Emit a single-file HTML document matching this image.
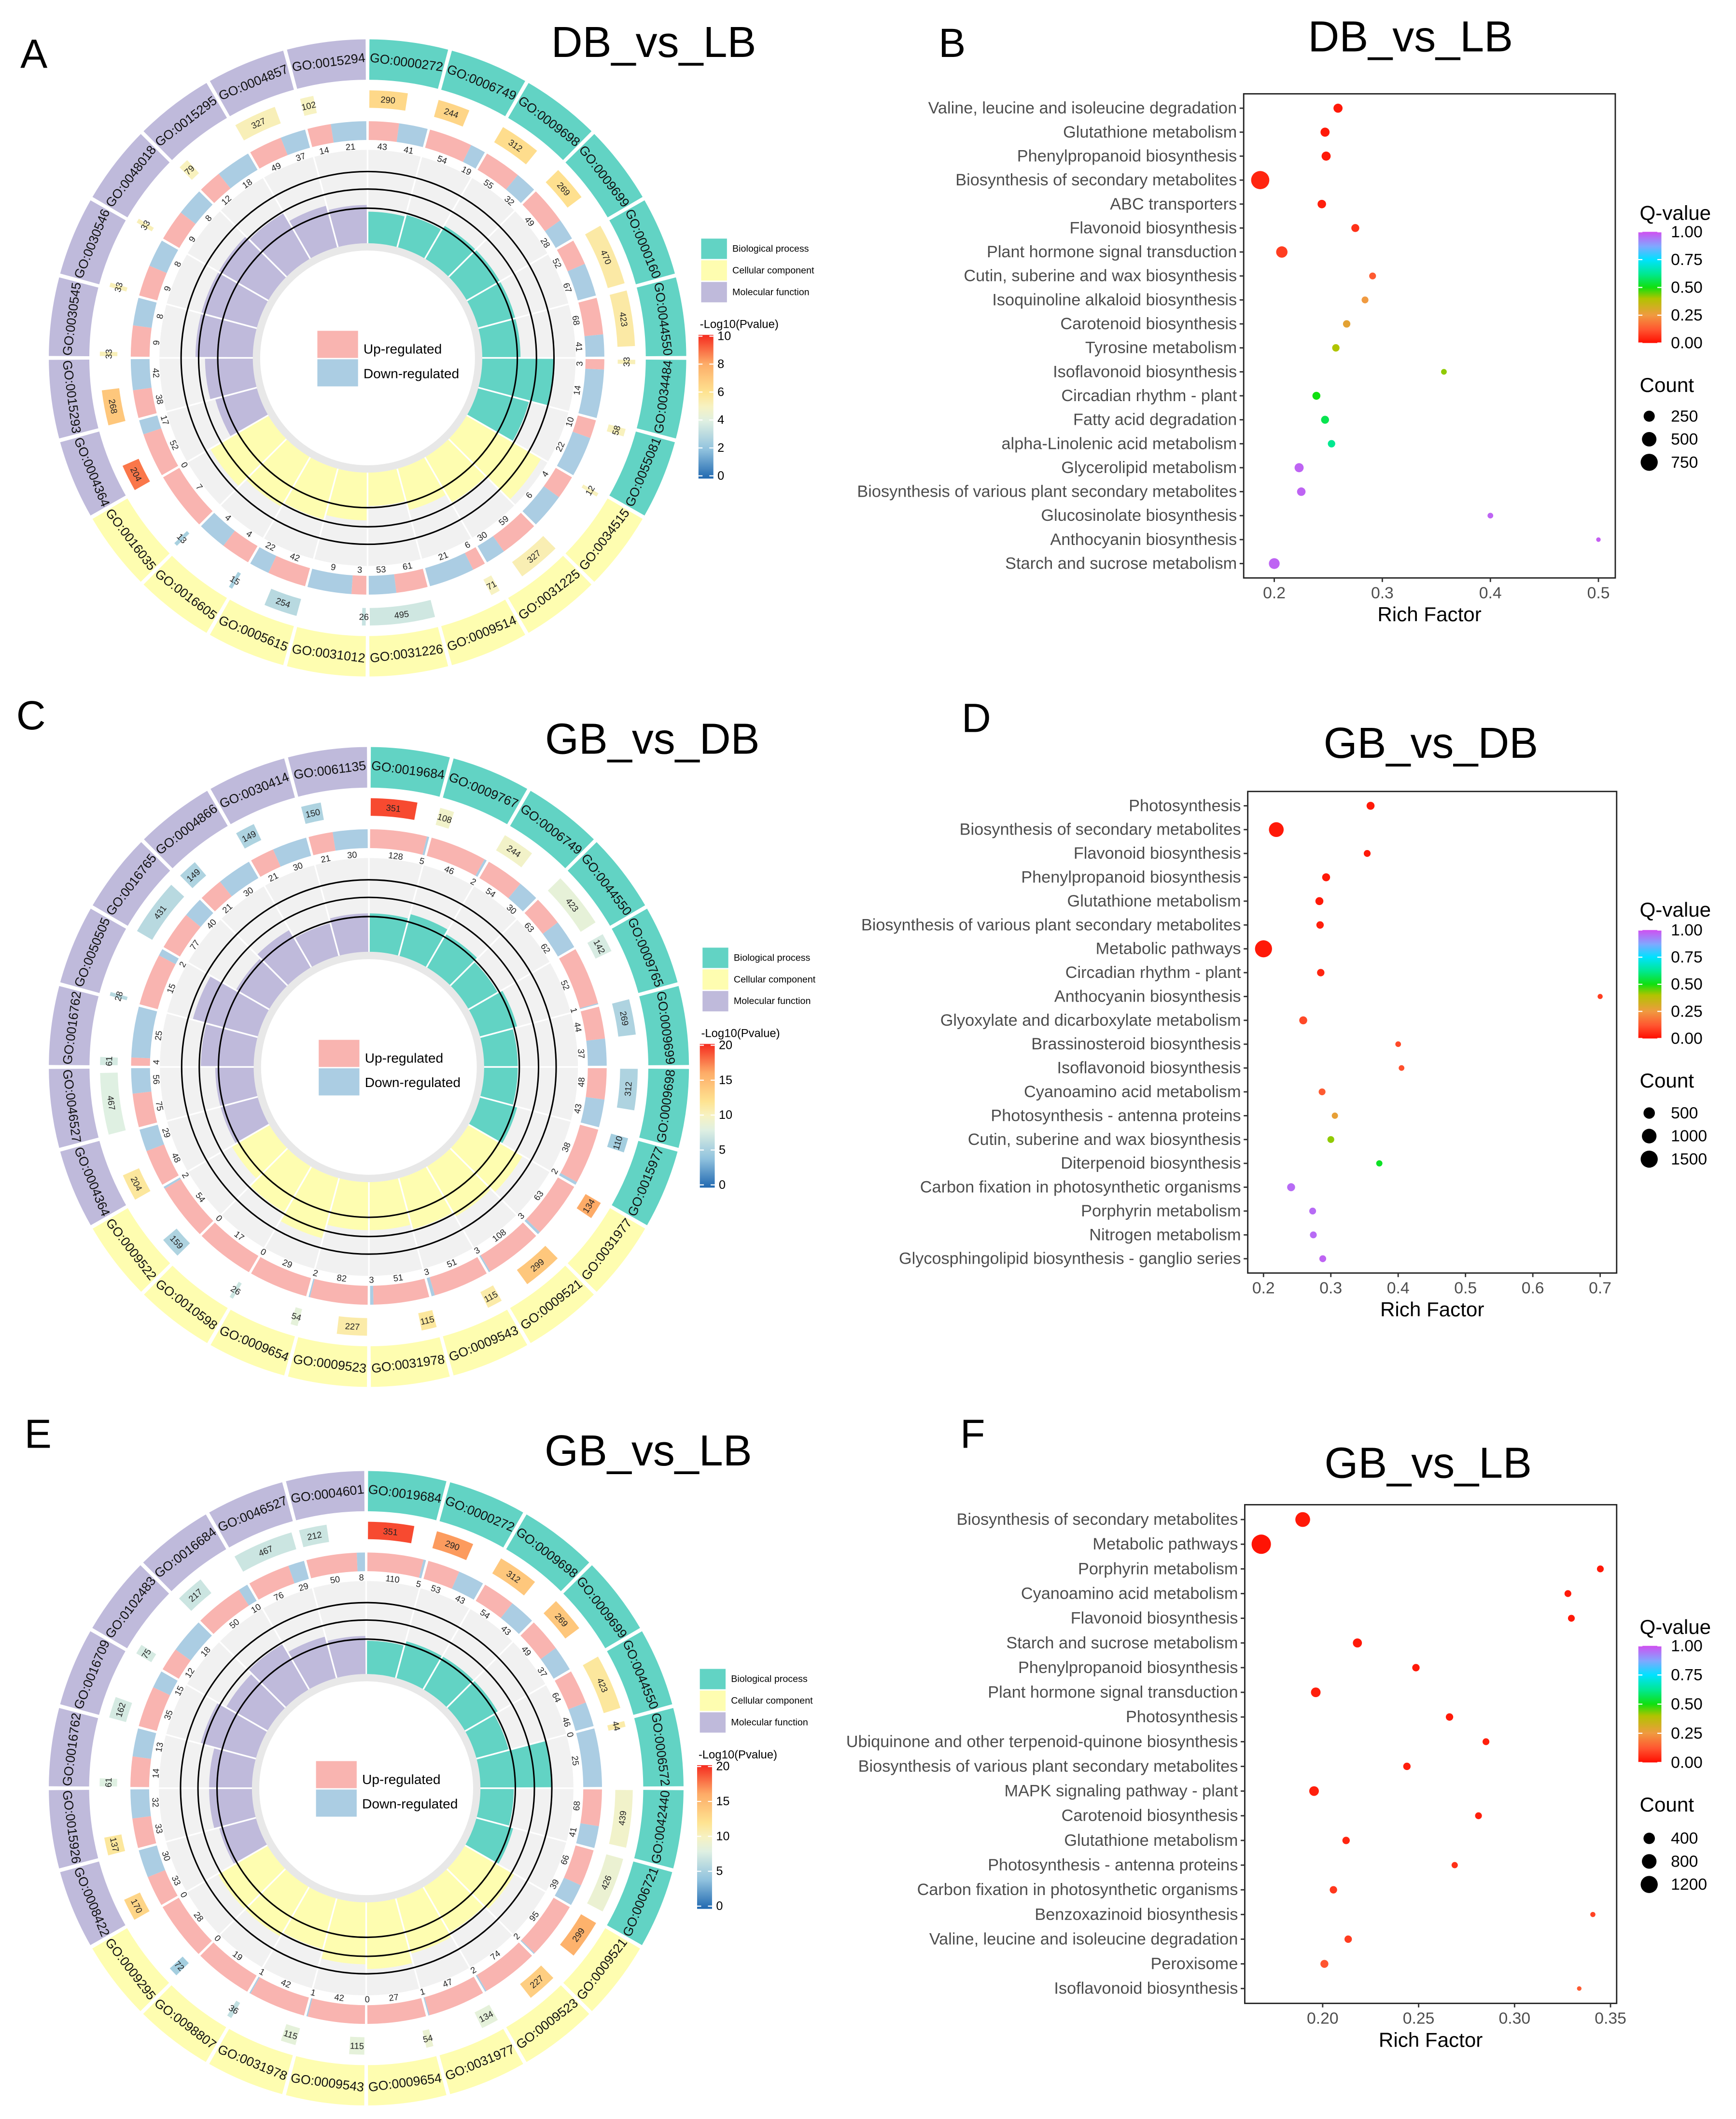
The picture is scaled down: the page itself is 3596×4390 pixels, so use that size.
<!DOCTYPE html>
<html><head><meta charset="utf-8"><style>
html,body{margin:0;padding:0;background:#fff;}
svg{display:block;font-family:"Liberation Sans",Arial,sans-serif;}
</style></head><body>
<svg id="chart" xmlns="http://www.w3.org/2000/svg" viewBox="0 0 1280 1563" width="3596" height="4390" preserveAspectRatio="none">
<defs id="defs"><clipPath id="rightclip"><rect x="619" y="0" width="661" height="1563"/></clipPath></defs>
</svg>
<script>
// ---------- DATA: circle A (DB_vs_LB) ----------
const goA=['GO:0000272','GO:0006749','GO:0009698','GO:0009699','GO:0000160','GO:0044550','GO:0034484','GO:0055081','GO:0034515','GO:0031225','GO:0009514','GO:0031226','GO:0031012','GO:0005615','GO:0016605','GO:0016035','GO:0004364','GO:0015293','GO:0030545','GO:0030546','GO:0048018','GO:0015295','GO:0004857','GO:0015294'];
const upA=[43,54,55,49,52,68,3,10,4,59,6,61,3,42,4,7,52,38,9,9,9,12,49,14];
const downA=[41,19,32,28,67,41,14,22,6,30,21,53,9,22,4,0,17,42,8,8,8,18,37,21];
const countA=[290,244,312,269,470,423,33,58,12,327,71,495,26,254,15,13,204,268,33,33,33,79,327,102];
const pA=[6.4,6.5,6.2,6.1,5.6,5.6,5.2,5.1,5.1,5.3,5.0,3.6,3.4,3.0,2.6,2.6,8.8,7.0,5.2,5.2,5.2,5.1,5.2,5.0];
const richA=[0.33,0.35,0.4,0.4,0.4,0.4,0.75,0.55,0.9,0.55,0.45,0.35,0.5,0.55,0.6,0.7,0.45,0.5,0.6,0.6,0.6,0.55,0.45,0.4];
// ---------- DATA: circle C (GB_vs_DB) ----------
const goC=['GO:0019684','GO:0009767','GO:0006749','GO:0044550','GO:0009765','GO:0009699','GO:0009698','GO:0015977','GO:0031977','GO:0009521','GO:0009543','GO:0031978','GO:0009523','GO:0009654','GO:0010598','GO:0009522','GO:0004364','GO:0046527','GO:0016762','GO:0050505','GO:0016765','GO:0004866','GO:0030414','GO:0061135'];
const upC=[128,46,54,63,52,44,48,38,63,108,51,51,82,29,17,54,48,75,4,15,77,21,21,21];
const downC=[5,2,30,62,1,37,43,2,3,3,3,3,2,0,0,2,29,56,25,2,40,30,30,30];
const countC=[351,108,244,423,142,269,312,110,134,299,115,115,227,54,26,159,204,467,61,28,431,149,149,150];
const pC=[19,9.5,9.6,8.6,7.6,5.5,5.5,5.0,16,14,11,11.5,11,8.5,7,5.5,11.5,8,7.5,6,6,5.5,5.5,5.5];
const richC=[0.4,0.45,0.4,0.35,0.4,0.35,0.35,0.4,0.65,0.6,0.55,0.5,0.5,0.65,0.55,0.45,0.4,0.4,0.55,0.7,0.4,0.45,0.35,0.4];
// ---------- DATA: circle E (GB_vs_LB) ----------
const goE=['GO:0019684','GO:0000272','GO:0009698','GO:0009699','GO:0044550','GO:0006572','GO:0042440','GO:0006721','GO:0009521','GO:0009523','GO:0031977','GO:0009654','GO:0009543','GO:0031978','GO:0098807','GO:0009295','GO:0008422','GO:0015926','GO:0016762','GO:0016709','GO:0102483','GO:0016684','GO:0046527','GO:0004601'];
const upE=[110,53,54,49,64,0,68,66,95,74,47,27,42,42,19,28,33,33,14,35,12,50,76,50];
const downE=[5,43,43,37,46,25,41,39,2,2,1,0,1,1,0,0,30,32,13,15,18,10,29,8];
const countE=[351,290,312,269,423,44,439,426,299,227,134,54,115,115,36,72,170,137,61,162,75,217,467,212];
const pE=[19,16.5,14,14,11.5,11,9.5,9,15.5,13.5,8.5,9,8.5,8.5,6.5,5,13,11.5,8,7.5,7.5,7,7,7];
const richE=[0.35,0.4,0.4,0.4,0.35,0.75,0.35,0.4,0.6,0.55,0.6,0.7,0.65,0.55,0.6,0.6,0.4,0.45,0.45,0.6,0.5,0.55,0.45,0.4];
// ---------- DATA: dot plot B ----------
const termsB=["Valine, leucine and isoleucine degradation","Glutathione metabolism","Phenylpropanoid biosynthesis","Biosynthesis of secondary metabolites","ABC transporters","Flavonoid biosynthesis","Plant hormone signal transduction","Cutin, suberine and wax biosynthesis","Isoquinoline alkaloid biosynthesis","Carotenoid biosynthesis","Tyrosine metabolism","Isoflavonoid biosynthesis","Circadian rhythm - plant","Fatty acid degradation","alpha-Linolenic acid metabolism","Glycerolipid metabolism","Biosynthesis of various plant secondary metabolites","Glucosinolate biosynthesis","Anthocyanin biosynthesis","Starch and sucrose metabolism"];
const richFactorB=[0.259,0.247,0.248,0.187,0.244,0.275,0.207,0.291,0.284,0.267,0.257,0.357,0.239,0.247,0.253,0.223,0.225,0.400,0.500,0.200];
const qB=[0.02,0.02,0.02,0.04,0.03,0.06,0.08,0.13,0.25,0.28,0.40,0.42,0.50,0.56,0.62,0.97,0.97,0.97,0.98,0.97];
const cntB=[140,140,140,872,115,93,265,56,56,73,73,28,93,93,73,140,115,28,9,230];
const xticksB=[0.2,0.3,0.4,0.5];
const xtickLabelsB=['0.2','0.3','0.4','0.5'];
const sizeLegendB=[250,500,750];
// ---------- DATA: dot plot D ----------
const termsD=["Photosynthesis","Biosynthesis of secondary metabolites","Flavonoid biosynthesis","Phenylpropanoid biosynthesis","Glutathione metabolism","Biosynthesis of various plant secondary metabolites","Metabolic pathways","Circadian rhythm - plant","Anthocyanin biosynthesis","Glyoxylate and dicarboxylate metabolism","Brassinosteroid biosynthesis","Isoflavonoid biosynthesis","Cyanoamino acid metabolism","Photosynthesis - antenna proteins","Cutin, suberine and wax biosynthesis","Diterpenoid biosynthesis","Carbon fixation in photosynthetic organisms","Porphyrin metabolism","Nitrogen metabolism","Glycosphingolipid biosynthesis - ganglio series"];
const richFactorD=[0.359,0.219,0.354,0.293,0.283,0.284,0.200,0.285,0.700,0.259,0.400,0.405,0.287,0.306,0.300,0.372,0.241,0.273,0.274,0.288];
const qD=[0.02,0.02,0.02,0.02,0.02,0.03,0.02,0.04,0.08,0.10,0.10,0.11,0.13,0.27,0.42,0.52,0.96,0.96,0.96,0.97];
const cntD=[160,1030,88,160,160,121,1490,121,20,160,37,37,88,60,88,60,160,88,88,88];
const xticksD=[0.2,0.3,0.4,0.5,0.6,0.7];
const xtickLabelsD=['0.2','0.3','0.4','0.5','0.6','0.7'];
const sizeLegendD=[500,1000,1500];
// ---------- DATA: dot plot F ----------
const termsF=["Biosynthesis of secondary metabolites","Metabolic pathways","Porphyrin metabolism","Cyanoamino acid metabolism","Flavonoid biosynthesis","Starch and sucrose metabolism","Phenylpropanoid biosynthesis","Plant hormone signal transduction","Photosynthesis","Ubiquinone and other terpenoid-quinone biosynthesis","Biosynthesis of various plant secondary metabolites","MAPK signaling pathway - plant","Carotenoid biosynthesis","Glutathione metabolism","Photosynthesis - antenna proteins","Carbon fixation in photosynthetic organisms","Benzoxazinoid biosynthesis","Valine, leucine and isoleucine degradation","Peroxisome","Isoflavonoid biosynthesis"];
const richFactorF=[0.1896,0.168,0.3447,0.3278,0.3296,0.2181,0.2486,0.1964,0.2661,0.2851,0.2439,0.1955,0.2812,0.2122,0.2688,0.2056,0.3408,0.2133,0.2009,0.3337];
const qF=[0.02,0.01,0.02,0.02,0.02,0.02,0.02,0.03,0.02,0.03,0.03,0.03,0.03,0.04,0.06,0.07,0.09,0.08,0.12,0.13];
const cntF=[823,1628,69,69,69,199,96,242,96,69,96,242,69,96,47,96,16,96,126,6];
const xticksF=[0.20,0.25,0.30,0.35];
const xtickLabelsF=['0.20','0.25','0.30','0.35'];
const sizeLegendF=[400,800,1200];
const qTicks=[0,0.25,0.5,0.75,1];
const qTickLabels=['0.00','0.25','0.50','0.75','1.00'];

const NS='http://www.w3.org/2000/svg';
const svg=document.getElementById('chart');
const defs=document.getElementById('defs');
function mk(tag,attrs,parent){const e=document.createElementNS(NS,tag);for(const k in attrs)e.setAttribute(k,attrs[k]);(parent||svg).appendChild(e);return e;}
function txt(parent,x,y,s,size,extra){const e=mk('text',Object.assign({x:x,y:y,'font-size':size},extra||{}),parent);e.textContent=s;return e;}

const P_STOPS=[[0,'#2068b0'],[0.2,'#90c2de'],[0.4,'#dff0e2'],[0.5,'#f7f2c2'],[0.6,'#fee391'],[0.8,'#fdab67'],[1,'#f52a1e']];
const Q_STOPS=[[0,'#ff0d00'],[0.12,'#ff5530'],[0.25,'#f09a40'],[0.4,'#b0c400'],[0.5,'#10e010'],[0.62,'#00e890'],[0.75,'#00e2ff'],[0.87,'#80a8ff'],[1,'#d050f0']];
function hex(c){return [parseInt(c.slice(1,3),16),parseInt(c.slice(3,5),16),parseInt(c.slice(5,7),16)];}
function interp(stops,t){t=Math.max(0,Math.min(1,t));for(let i=1;i<stops.length;i++){if(t<=stops[i][0]){const a=stops[i-1],b=stops[i];const f=(t-a[0])/(b[0]-a[0]);const ca=hex(a[1]),cb=hex(b[1]);return 'rgb('+ca.map((v,j)=>Math.round(v+(cb[j]-v)*f)).join(',')+')';}}return stops[stops.length-1][1];}
function gradient(id,stops){const g=mk('linearGradient',{id:id,x1:0,y1:1,x2:0,y2:0},defs);stops.forEach(s=>mk('stop',{offset:s[0],'stop-color':s[1]},g));}
gradient('pgrad',P_STOPS);gradient('qgrad',Q_STOPS);

function pt(cx,cy,r,deg){const a=deg*Math.PI/180;return [cx+r*Math.sin(a),cy-r*Math.cos(a)];}
function sector(cx,cy,r0,r1,a0,a1){const p1=pt(cx,cy,r1,a0),p2=pt(cx,cy,r1,a1),p3=pt(cx,cy,r0,a1),p4=pt(cx,cy,r0,a0);const lg=(a1-a0)>180?1:0;
 return 'M'+p1.join(' ')+' A'+r1+' '+r1+' 0 '+lg+' 1 '+p2.join(' ')+' L'+p3.join(' ')+' A'+r0+' '+r0+' 0 '+lg+' 0 '+p4.join(' ')+'Z';}
function rot(t){t=((t%360)+360)%360;if(t<90)return t;if(t<270)return t-180;return t-360;}
const GROUP_COL=['#62d3c4','#fefdb0','#bfbadb'];
const GROUP_NAMES=['Biological process','Cellular component','Molecular function'];

function drawCircle(key,cx,cy,R,go,up,down,cnt,pv,pmax,rich,pTicks){
 const g=mk('g',{});
 
 
 const n=go.length, step=360/n;
 const bg=mk('circle',{cx:cx,cy:cy,r:0.653*R,fill:'#f1f1f1'},g);
 
 
 const rim=mk('circle',{cx:cx,cy:cy,r:0.36*R,fill:'#e8e8e8'},g);
 
 
 const hole=mk('circle',{cx:cx,cy:cy,r:0.337*R,fill:'#ffffff'},g);
 
 
 for(let i=0;i<n;i++){
  const a0=i*step,a1=(i+1)*step,mid=(a0+a1)/2,grp=Math.floor(i/8);
  const seg=mk('path',{d:sector(cx,cy,0.873*R,R,a0+0.35,a1-0.35),fill:GROUP_COL[grp]},g);
  
  
  const lp=pt(cx,cy,0.936*R,mid);
  const lt=txt(g,lp[0],lp[1],go[i],9.5,{'text-anchor':'middle','dominant-baseline':'central',fill:'#111',transform:'rotate('+rot(mid)+' '+lp[0]+' '+lp[1]+')'});
  
  
  const w=Math.max(0.8,cnt[i]*0.0285);
  const cb=mk('path',{d:sector(cx,cy,0.785*R,0.84*R,a0+0.4,a0+0.4+w),fill:interp(P_STOPS,pv[i]/pmax)},g);
  
  
  const cp=pt(cx,cy,0.8125*R,a0+0.4+w/2);
  const ct=txt(g,cp[0],cp[1],String(cnt[i]),6.5,{'text-anchor':'middle','dominant-baseline':'central',fill:'#222',transform:'rotate('+rot(a0+0.4+w/2)+' '+cp[0]+' '+cp[1]+')'});
  
  
  const tot=up[i]+down[i], span=step-0.6, au=tot>0?span*up[i]/tot:0;
  const s0=a0+0.3;
  if(au>0){const u=mk('path',{d:sector(cx,cy,0.684*R,0.743*R,s0,s0+au),fill:'#f9b4b0'},g);
   
   }
  if(span-au>0){const d=mk('path',{d:sector(cx,cy,0.684*R,0.743*R,s0+au,s0+span),fill:'#abcde3'},g);
   
   }
  const um=s0+au/2, dm=s0+au+(span-au)/2;
  const up1=pt(cx,cy,0.665*R,um);
  const ut=txt(g,up1[0],up1[1],String(up[i]),6.5,{'text-anchor':'middle','dominant-baseline':'central',fill:'#222',transform:'rotate('+rot(um)+' '+up1[0]+' '+up1[1]+')'});
  
  
  const dp1=pt(cx,cy,0.665*R,dm);
  const dt=txt(g,dp1[0],dp1[1],String(down[i]),6.5,{'text-anchor':'middle','dominant-baseline':'central',fill:'#222',transform:'rotate('+rot(dm)+' '+dp1[0]+' '+dp1[1]+')'});
  
  
  const rb=mk('path',{d:sector(cx,cy,0.36*R,(0.36+rich[i]*0.3)*R,a0+0.3,a1-0.3),fill:GROUP_COL[grp]},g);
  
  
  const l0=pt(cx,cy,0.36*R,a0),l1=pt(cx,cy,0.653*R,a0);
  const wl=mk('line',{x1:l0[0],y1:l0[1],x2:l1[0],y2:l1[1],stroke:'#fff','stroke-width':1.2},g);
  
  
 }
 [0.47,0.53,0.585].forEach(f=>{const c=mk('circle',{cx:cx,cy:cy,r:f*R,fill:'none',stroke:'#000','stroke-width':1.1},g);
  
  });
 const ub=mk('rect',{x:cx-37,y:cy-20,width:30,height:20,fill:'#f9b4b0'},g);
 
 
 const db=mk('rect',{x:cx-37,y:cy+1,width:30,height:20,fill:'#abcde3'},g);
 
 
 const ul=txt(g,cx-3,cy-6.5,'Up-regulated',10,{'dominant-baseline':'central'});
 
 
 const dl=txt(g,cx-3,cy+11.5,'Down-regulated',10,{'dominant-baseline':'central'});
 
 
 for(let k=0;k<3;k++){
  const r=mk('rect',{x:cx+246,y:cy-88+k*16,width:19,height:15,fill:GROUP_COL[k]},g);
  
  
  const t=txt(g,cx+269,cy-80.5+k*16,GROUP_NAMES[k],7,{'dominant-baseline':'central'});
  
  
 }
 const pt1=txt(g,cx+245,cy-22,'-Log10(Pvalue)',8.5,{});
 
 
 const bar=mk('rect',{x:cx+244,y:cy-17,width:11,height:106,fill:'url(#pgrad)'},g);
 
 
 pTicks.forEach(v=>{const y=cy+87-(v/pmax)*103;
  const tl=mk('line',{x1:cx+244,x2:cx+255,y1:y,y2:y,stroke:'#fff','stroke-width':0.8,'stroke-dasharray':'3 5'},g);
  
  
  const t=txt(g,cx+258,y,String(v),9,{'dominant-baseline':'central'});
  
  });
}

function drawDots(key,terms,rich,q,cnt,box,dom,ticks,tickLabels,sa,sb,legCounts,leg){
 const g=mk('g',{});
 
 
 const X=v=>box.x0+(v-dom[0])/(dom[1]-dom[0])*(box.x1-box.x0);
 const pitch=(box.y1-box.y0)/(terms.length+0.2);
 const Y=i=>box.y0+(0.6+i)*pitch;
 const rad=c=>sa+sb*Math.sqrt(c);
 const frame=mk('rect',{x:box.x0,y:box.y0,width:box.x1-box.x0,height:box.y1-box.y0,fill:'none',stroke:'#222','stroke-width':1},g);
 
 
 const lg=mk('g',{'clip-path':'url(#rightclip)'},g);
 terms.forEach((t,i)=>{
  const tk=mk('line',{x1:box.x0-3,x2:box.x0,y1:Y(i),y2:Y(i),stroke:'#333','stroke-width':1},g);
  
  
  const lb=txt(lg,box.x0-5,Y(i),t,12.2,{'text-anchor':'end','dominant-baseline':'central',fill:'#4d4d4d'});
  
  
  const c=mk('circle',{cx:X(rich[i]),cy:Y(i),r:rad(cnt[i]),fill:interp(Q_STOPS,q[i])},g);
  
  
 });
 ticks.forEach((v,i)=>{
  const tk=mk('line',{x1:X(v),x2:X(v),y1:box.y1,y2:box.y1+3,stroke:'#333','stroke-width':1},g);
  
  
  const tl=txt(g,X(v),box.y1+15,tickLabels[i],12,{'text-anchor':'middle',fill:'#4d4d4d'});
  
  
 });
 const xt=txt(g,(box.x0+box.x1)/2,box.y1+32,'Rich Factor',15,{'text-anchor':'middle'});
 
 
 const qt=txt(g,1209,leg.qTitle,'Q-value',15,{'dominant-baseline':'central'});
 
 
 const qb=mk('rect',{x:1208,y:leg.b0,width:17,height:leg.b1-leg.b0,fill:'url(#qgrad)'},g);
 
 
 qTicks.forEach((v,i)=>{const y=leg.b1-v*(leg.b1-leg.b0);
  const l=mk('line',{x1:1208,x2:1225,y1:y,y2:y,stroke:'#fff','stroke-width':0.8,'stroke-dasharray':'3 11'},g);
  
  
  const t=txt(g,1232,y,qTickLabels[i],12,{'dominant-baseline':'central'});
  
  });
 const ctl=txt(g,1209,leg.cTitle,'Count',15,{'dominant-baseline':'central'});
 
 
 legCounts.forEach((c,i)=>{
  const y=leg.cy[i];
  const d=mk('circle',{cx:1216,cy:y,r:rad(c),fill:'#000'},g);
  
  
  const t=txt(g,1232,y,String(c),12,{'dominant-baseline':'central'});
  
  
 });
}

drawCircle('a',271,264,235,goA,upA,downA,countA,pA,10,richA,[0,2,4,6,8,10]);
drawCircle('c',272,787,236,goC,upC,downC,countC,pC,20,richC,[0,5,10,15,20]);
drawCircle('e',270,1319,234,goE,upE,downE,countE,pE,20,richE,[0,5,10,15,20]);

drawDots('b',termsB,richFactorB,qB,cntB,{x0:917,x1:1191,y0:69.2,y1:426.3},[0.1717,0.5156],xticksB,xtickLabelsB,1.1,0.19,sizeLegendB,{qTitle:157,b0:171,b1:253,cTitle:284,cy:[307,324,341]});
drawDots('d',termsD,richFactorD,qD,cntD,{x0:920,x1:1192,y0:583.8,y1:939},[0.1766,0.7245],xticksD,xtickLabelsD,1.31,0.129,sizeLegendD,{qTitle:671,b0:686,b1:766,cTitle:797,cy:[821,838,855]});
drawDots('f',termsF,richFactorF,qF,cntF,{x0:917.8,x1:1192,y0:1109.9,y1:1477.7},[0.1594,0.3532],xticksF,xtickLabelsF,1.32,0.144,sizeLegendF,{qTitle:1200,b0:1214,b1:1300,cTitle:1331,cy:[1356,1373,1390]});

[['A',15,50],['B',692,42],['C',12,538],['D',709,540],['E',18,1068],['F',708,1068]].forEach(a=>{
 const t=txt(svg,a[1],a[2],a[0],30,{});
 
 
});
[['DB_vs_LB',482,42],['DB_vs_LB',1040,38],['GB_vs_DB',481,556],['GB_vs_DB',1055,559],['GB_vs_LB',478,1081],['GB_vs_LB',1053,1090]].forEach(a=>{
 const t=txt(svg,a[1],a[2],a[0],32,{'text-anchor':'middle'});
 
 
});
</script>
</body></html>
